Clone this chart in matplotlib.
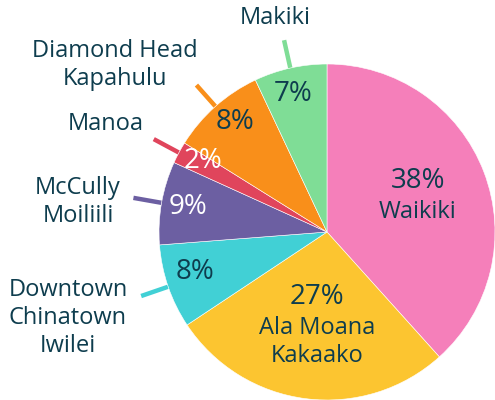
# Honolulu neighbourhood share pie chart
import matplotlib
matplotlib.use("Agg")
import matplotlib.pyplot as plt
import numpy as np

plt.rcParams['font.family'] = ['Open Sans', 'DejaVu Sans']

# data
areas = ["Waikiki", "Ala Moana\nKakaako", "Downtown\nChinatown\nIwilei",
         "McCully\nMoiliili", "Manoa", "Diamond Head\nKapahulu", "Makiki"]
shares = [38.3, 27.3, 8.1, 8.0, 2.1, 9.1, 7.0]
pct_labels = ["38%", "27%", "8%", "9%", "2%", "8%", "7%"]

colors = ["#f57fba", "#fcc530", "#41d0d5", "#6c5fa2", "#e0455c", "#f98f1a", "#7fdd96"]
text_col = "#0e3d4e"
pct_col = [text_col, text_col, text_col, "white", "white", text_col, text_col]

# slices with the name outside; where the name block sits (pixels)
outside = [2, 3, 4, 5, 6]
name_px = {0: (418, 212), 1: (317, 342), 2: (68, 318), 3: (78, 202),
           4: (106, 124), 5: (115, 65), 6: (275, 18)}
# where the percentage goes inside the slice (pixels)
pct_px = {0: (418, 181), 1: (317, 297), 2: (195, 272), 3: (188, 207),
          4: (203, 161), 5: (235, 122), 6: (293, 94)}

CX, CY, R = 327, 232, 168
W, H = 495, 400


def px2data(px, py):
    return (px - CX) / R, (CY - py) / R


fig = plt.figure(figsize=(W / 100, H / 100), dpi=100)
ax = fig.add_axes([(CX - R) / W, (H - CY - R) / H, 2 * R / W, 2 * R / H])
wedges, _ = ax.pie(shares, colors=colors, startangle=90, counterclock=False,
                   radius=1, wedgeprops=dict(edgecolor="white", linewidth=0.4))
ax.set_xlim(-1, 1)
ax.set_ylim(-1, 1)
ax.set_aspect("equal")
ax.axis("off")

fs_name = 17
fs_pct = 20
for i, w in enumerate(wedges):
    mid = np.deg2rad((w.theta1 + w.theta2) / 2)
    if i in outside:
        # leader line tucked under the pie edge
        ax.plot([1.0 * np.cos(mid), 1.17 * np.cos(mid)],
                [1.0 * np.sin(mid), 1.17 * np.sin(mid)],
                color=colors[i], lw=3.2, solid_capstyle="butt",
                clip_on=False, zorder=0)
    x, y = px2data(*name_px[i])
    ax.text(x, y, areas[i], ha="center", va="center", fontsize=fs_name,
            color=text_col, multialignment="center", linespacing=1.2,
            clip_on=False)
    x, y = px2data(*pct_px[i])
    ax.text(x, y, pct_labels[i], ha="center", va="center", fontsize=fs_pct,
            color=pct_col[i])

fig.savefig("out.png", dpi=100)
